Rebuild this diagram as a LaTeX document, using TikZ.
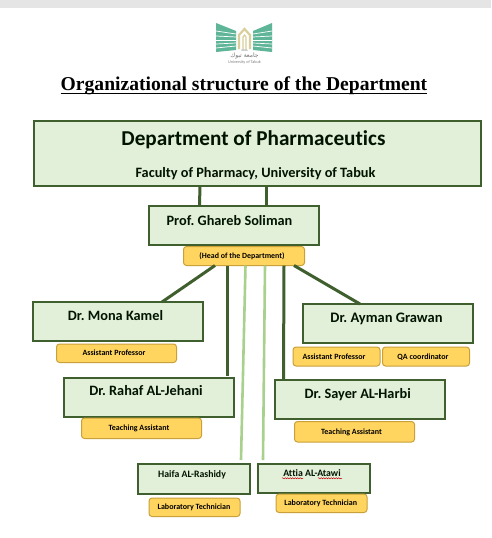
\documentclass[tikz,border=0pt]{standalone}
\usepackage{fontspec}
\setmainfont[Ligatures=CommonOff]{Carlito}
\newfontfamily\titlefont{Liberation Serif}
\newfontfamily\arabicfont[Script=Arabic]{DejaVu Sans}
\TeXXeTstate=1
\frenchspacing
\usetikzlibrary{calc,decorations.pathmorphing}
\definecolor{boxfill}{HTML}{E2EFD9}
\definecolor{boxline}{HTML}{3F5F2F}
\definecolor{pillfill}{HTML}{FFD45F}
\definecolor{pillline}{HTML}{C9A13A}
\definecolor{lightline}{HTML}{A9D18E}
\definecolor{logogreen}{HTML}{5FB598}
\definecolor{logogold}{HTML}{D8CF9A}
\newcommand{\boxtext}[3]{\makebox[0pt][c]{\hspace*{#1pt}\raisebox{#2pt}[0pt][0pt]{#3}}}
\tikzset{
  x=1pt,y=-1pt,
  greenbox/.style={draw=boxline,fill=boxfill,line width=2pt,inner sep=0pt,outer sep=0pt,anchor=north west,text=black!92!green,font=\bfseries},
  pill/.style={draw=pillline,fill=pillfill,line width=1pt,rounded corners=3pt,inner sep=0pt,outer sep=0pt,anchor=north west,text=black,font=\bfseries\fontsize{8}{9}\selectfont},
  darklink/.style={draw=boxline,line width=3pt},
  lightlink/.style={draw=lightline,line width=2.6pt},
  squiggle/.style={draw=red!75!black,line width=0.5pt,decorate,decoration={snake,amplitude=0.5pt,segment length=2.5pt}},
}
\begin{document}
\begin{tikzpicture}
\useasboundingbox (0,0) rectangle (491,538);
\fill[white] (0,0) rectangle (491,538);
\fill[black!10] (0,0) rectangle (491,8);
% logo
\fill[logogreen] (216,23) -- (236,31) -- (236,50) -- (216,52) -- cycle;
\fill[logogreen] (272,23) -- (253,31) -- (253,50) -- (272,52) -- cycle;
\foreach \a/\b in {31/34,36/37,40/40,44/43,48/46}{
  \draw[white,line width=0.7pt] (216,\a) -- (236,\b);
  \draw[white,line width=0.7pt] (272,\a) -- (253,\b);
}
\draw[logogold,line width=2.2pt] (239,49) -- (239,35) -- (244.5,29) -- (250,35) -- (250,49);
\draw[logogold,line width=1.2pt] (243,49) -- (243,37) -- (244.5,35) -- (246,37) -- (246,49);
\node[inner sep=0pt,text=black!55,font=\fontsize{3}{3}\selectfont] (logoyear) at (244.5,50) {2006};
\node[inner sep=0pt,text=black!55,font=\arabicfont\fontsize{6}{6}\selectfont] (logoar) at (244.5,56) {\beginR جامعة تبوك\endR};
\node[inner sep=0pt,text=black!50,font=\fontsize{4.2}{4}\selectfont] (logoen) at (244.5,62) {University of Tabuk};
% title
\node[inner sep=0pt,anchor=base,font=\titlefont\bfseries\fontsize{19.6}{22}\selectfont] (title) at (244,90) {Organizational structure of the Department};
\draw[line width=1pt] ([yshift=-3.5pt]title.base west) -- ([yshift=-3.5pt]title.base east);
% boxes
\node[greenbox,minimum width=447pt,minimum height=65pt] (dept) at (33.5,120.5) {%
  \boxtext{-7}{8}{\fontsize{21.2}{24}\selectfont Department of Pharmaceutics}%
  \boxtext{-3}{-24}{\fontsize{14.3}{16}\selectfont Faculty of Pharmacy, University of Tabuk}};
\node[greenbox,minimum width=170pt,minimum height=39pt] (prof) at (148.5,205.5) {\boxtext{-8}{-0.5}{\fontsize{14.3}{18}\selectfont Prof. Ghareb Soliman}};
\node[pill,minimum width=121pt,minimum height=19pt] (head) at (183.5,246.5) {\boxtext{-4}{-2.5}{\fontsize{7.9}{8}\selectfont (Head of the Department)}};
\node[greenbox,minimum width=170pt,minimum height=39pt] (mona) at (32.5,302) {\boxtext{-4}{1.5}{\fontsize{14.3}{18}\selectfont Dr. Mona Kamel}};
\node[pill,minimum width=120pt,minimum height=18.5pt] (monar) at (56.5,344) {\boxtext{-5}{-2.7}{Assistant Professor}};
\node[greenbox,minimum width=170pt,minimum height=39pt] (ayman) at (303,304) {\boxtext{-3}{1}{\fontsize{14.5}{18}\selectfont Dr. Ayman Grawan}};
\node[pill,minimum width=87pt,minimum height=19pt] (aymanr) at (293,347) {\boxtext{-5}{-2.7}{Assistant Professor}};
\node[pill,minimum width=87pt,minimum height=19pt] (aymanq) at (382.5,347) {\boxtext{-6}{-2.7}{QA coordinator}};
\node[greenbox,minimum width=170pt,minimum height=39pt] (rahaf) at (64,377.5) {\boxtext{-6}{1.5}{\fontsize{14.3}{18}\selectfont Dr. Rahaf AL-Jehani}};
\node[pill,minimum width=120pt,minimum height=20.5pt] (rahafr) at (81.5,418) {\boxtext{-5}{-2.7}{Teaching Assistant}};
\node[greenbox,minimum width=170pt,minimum height=39pt] (sayer) at (275,380) {\boxtext{-4.5}{1.5}{\fontsize{14.3}{18}\selectfont Dr. Sayer AL-Harbi}};
\node[pill,minimum width=120pt,minimum height=20.5pt] (sayerr) at (294.5,421.5) {\boxtext{-6}{-2.7}{Teaching Assistant}};
\node[greenbox,minimum width=112pt,minimum height=29.5pt] (haifa) at (138,464) {\boxtext{-4}{1.5}{\fontsize{9.8}{11}\selectfont Haifa AL-Rashidy}};
\node[pill,minimum width=91pt,minimum height=18.5pt] (haifar) at (149,498) {\boxtext{-1}{-2.7}{Laboratory Technician}};
\node[greenbox,minimum width=112pt,minimum height=29.5pt] (attia) at (258,463.5) {\boxtext{-4}{1.5}{\fontsize{9.8}{11}\selectfont Attia AL-Atawi}};
\node[pill,minimum width=91pt,minimum height=18.5pt] (attiar) at (276,494) {\boxtext{-1.5}{-2.7}{Laboratory Technician}};
% spelling marks under the two names
\draw[squiggle] ([xshift=-32pt]attia.center) -- ([xshift=-11pt]attia.center);
\draw[squiggle] ([xshift=4pt]attia.center) -- ([xshift=28pt]attia.center);
% connectors
\draw[darklink] ([xshift=-57pt]dept.south) -- ([xshift=-34pt]prof.north);
\draw[darklink] ([xshift=9.5pt]dept.south) -- ([xshift=33pt]prof.north);
\draw[darklink] ([xshift=-29pt]head.south) -- ([xshift=44.5pt]mona.north);
\draw[darklink] ([xshift=-17pt]head.south) -- ([xshift=78pt,yshift=2pt]rahaf.north);
\draw[darklink] ([xshift=40pt]head.south) -- ([xshift=-76.5pt]sayer.north);
\draw[darklink] ([xshift=50pt]head.south) -- ([xshift=-28pt]ayman.north);
\draw[lightlink] ([xshift=1.5pt]head.south) -- ([xshift=47pt,yshift=4pt]haifa.north);
\draw[lightlink] ([xshift=21pt]head.south) -- ([xshift=-51pt,yshift=3.5pt]attia.north);
\end{tikzpicture}
\end{document}
